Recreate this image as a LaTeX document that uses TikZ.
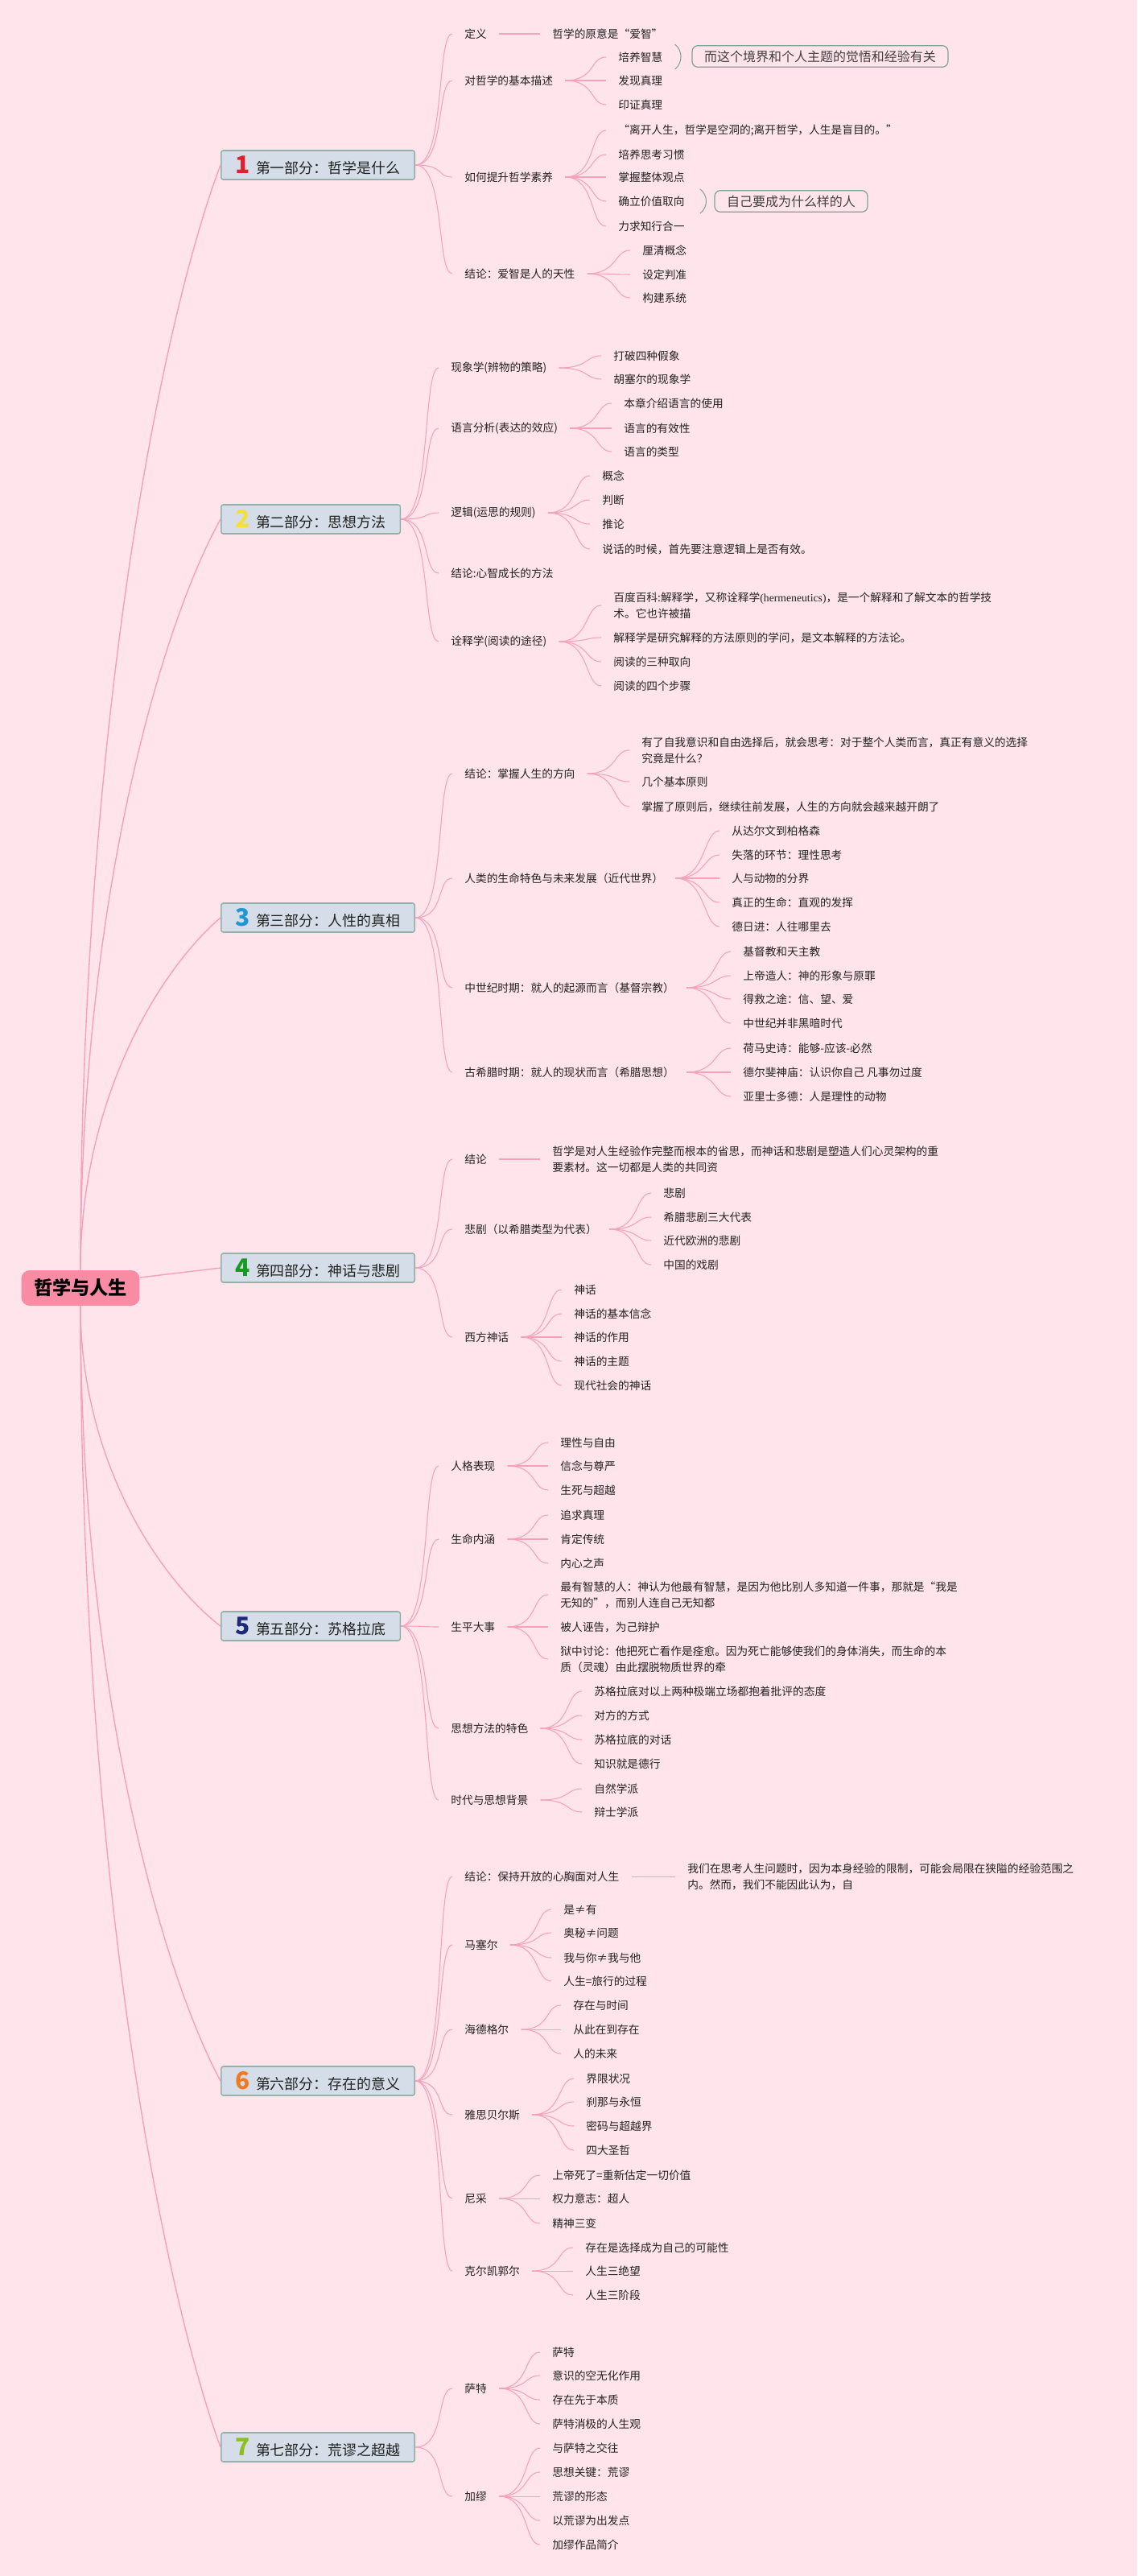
\documentclass[tikz,border=0pt]{standalone}
\usepackage{fontspec}
\setmainfont{Noto Sans CJK SC}
\newfontfamily\latinserif{Liberation Serif}
\usepackage{tikz}
\usetikzlibrary{calc}
\usepackage{xcolor}

\definecolor{bgpink}{HTML}{FFE4EC}
\definecolor{linkpink}{HTML}{F4A2B9}
\definecolor{partfill}{HTML}{D5DEE8}
\definecolor{partedge}{HTML}{94B1A9}
\definecolor{rootpink}{HTML}{F78CA4}
\definecolor{noteedge}{HTML}{7FA39A}
\definecolor{notetext}{HTML}{404040}
\definecolor{itemtext}{HTML}{222222}
\definecolor{no1}{HTML}{E0202E}
\definecolor{no2}{HTML}{F5DF3A}
\definecolor{no3}{HTML}{2196D3}
\definecolor{no4}{HTML}{179A23}
\definecolor{no5}{HTML}{1E2A78}
\definecolor{no6}{HTML}{F27A1E}
\definecolor{no7}{HTML}{8CBF1E}

\newcommand\partno[2]{{\color{#1}\fontsize{17}{17}\selectfont\bfseries #2}\hspace{4pt}}

\begin{document}
\begin{tikzpicture}[
	root/.style={fill=rootpink, rounded corners=6pt, inner xsep=0.31cm, minimum height=0.88cm, font=\fontsize{13.2}{14}\selectfont\bfseries},
	part/.style={anchor=west, draw=partedge, fill=partfill, line width=0.9pt, rounded corners=1.5pt, inner xsep=0.36cm, minimum height=0.72cm, text=itemtext, font=\fontsize{10.2}{12}\selectfont},
	item/.style={anchor=west, inner xsep=0.3cm, inner ysep=1pt, align=left, text=itemtext, font=\fontsize{7.8}{11.3}\selectfont},
	note/.style={draw=noteedge, fill=bgpink, rounded corners=4pt, line width=0.7pt, minimum height=0.52cm, inner xsep=0.3cm, text=notetext, font=\fontsize{9.1}{11}\selectfont},
	link/.style={draw=linkpink, line width=0.6pt},
	branch/.style={link, to path={.. controls +(0.75,0) and +(-0.4,0) .. (\tikztotarget) \tikztonodes}},
	trunk/.style={draw=linkpink, line width=0.8pt},
	brace/.style={draw=noteedge, line width=0.6pt}
]
	\fill[bgpink] (0cm, 0cm) rectangle (28.26cm, -64cm);
	\useasboundingbox (0cm, 0cm) rectangle (28.26cm, -64cm);

	\draw (2cm, -32cm) node[root] (root) {哲学与人生};

	% part 1
	\draw (5.48cm, -4.10cm) node[part] (m1) {\partno{no1}{1}第一部分：哲学是什么}
		(11.24cm, -0.84cm) node[item] (s11) {定义}
		(11.24cm, -2.00cm) node[item] (s12) {对哲学的基本描述}
		(11.24cm, -4.40cm) node[item] (s13) {如何提升哲学素养}
		(11.24cm, -6.80cm) node[item] (s14) {结论：爱智是人的天性}
		(13.42cm, -0.84cm) node[item] (t111) {哲学的原意是“爱智”}
		(15.06cm, -1.42cm) node[item] (t121) {培养智慧}
		(15.06cm, -2.00cm) node[item] (t122) {发现真理}
		(15.06cm, -2.60cm) node[item] (t123) {印证真理}
		(15.06cm, -3.24cm) node[item] (t131) {“离开人生，哲学是空洞的;离开哲学，人生是盲目的。”}
		(15.06cm, -3.84cm) node[item] (t132) {培养思考习惯}
		(15.06cm, -4.40cm) node[item] (t133) {掌握整体观点}
		(15.06cm, -5.00cm) node[item] (t134) {确立价值取向}
		(15.06cm, -5.62cm) node[item] (t135) {力求知行合一}
		(15.66cm, -6.22cm) node[item] (t141) {厘清概念}
		(15.66cm, -6.82cm) node[item] (t142) {设定判准}
		(15.66cm, -7.40cm) node[item] (t143) {构建系统}
		(20.38cm, -1.40cm) node[note] (n1) {而这个境界和个人主题的觉悟和经验有关}
		(19.66cm, -5.00cm) node[note] (n2) {自己要成为什么样的人};

	% part 2
	\draw (5.48cm, -12.90cm) node[part] (m2) {\partno{no2}{2}第二部分：思想方法}
		(10.90cm, -9.14cm) node[item] (s21) {现象学(辨物的策略)}
		(10.90cm, -10.64cm) node[item] (s22) {语言分析(表达的效应)}
		(10.90cm, -12.74cm) node[item] (s23) {逻辑(运思的规则)}
		(10.90cm, -14.24cm) node[item] (s24) {结论:心智成长的方法}
		(10.90cm, -15.94cm) node[item] (s25) {诠释学(阅读的途径)}
		(14.94cm, -8.84cm) node[item] (t211) {打破四种假象}
		(14.94cm, -9.42cm) node[item] (t212) {胡塞尔的现象学}
		(15.20cm, -10.02cm) node[item] (t221) {本章介绍语言的使用}
		(15.20cm, -10.64cm) node[item] (t222) {语言的有效性}
		(15.20cm, -11.22cm) node[item] (t223) {语言的类型}
		(14.66cm, -11.82cm) node[item] (t231) {概念}
		(14.66cm, -12.42cm) node[item] (t232) {判断}
		(14.66cm, -13.02cm) node[item] (t233) {推论}
		(14.66cm, -13.64cm) node[item] (t234) {说话的时候，首先要注意逻辑上是否有效。}
		(14.94cm, -15.04cm) node[item] (t251) {百度百科:解释学，又称诠释学{\latinserif(hermeneutics)}，是一个解释和了解文本的哲学技\\术。它也许被描}
		(14.94cm, -15.84cm) node[item] (t252) {解释学是研究解释的方法原则的学问，是文本解释的方法论。}
		(14.94cm, -16.44cm) node[item] (t253) {阅读的三种取向}
		(14.94cm, -17.04cm) node[item] (t254) {阅读的四个步骤};

	% part 3
	\draw (5.48cm, -22.80cm) node[part] (m3) {\partno{no3}{3}第三部分：人性的真相}
		(11.24cm, -19.22cm) node[item] (s31) {结论：掌握人生的方向}
		(11.24cm, -21.82cm) node[item] (s32) {人类的生命特色与未来发展（近代世界）}
		(11.24cm, -24.54cm) node[item] (s33) {中世纪时期：就人的起源而言（基督宗教）}
		(11.24cm, -26.64cm) node[item] (s34) {古希腊时期：就人的现状而言（希腊思想）}
		(15.64cm, -18.64cm) node[item] (t311) {有了自我意识和自由选择后，就会思考：对于整个人类而言，真正有意义的选择\\究竟是什么？}
		(15.64cm, -19.42cm) node[item] (t312) {几个基本原则}
		(15.64cm, -20.04cm) node[item] (t313) {掌握了原则后，继续往前发展，人生的方向就会越来越开朗了}
		(17.88cm, -20.64cm) node[item] (t321) {从达尔文到柏格森}
		(17.88cm, -21.24cm) node[item] (t322) {失落的环节：理性思考}
		(17.88cm, -21.82cm) node[item] (t323) {人与动物的分界}
		(17.88cm, -22.42cm) node[item] (t324) {真正的生命：直观的发挥}
		(17.88cm, -23.02cm) node[item] (t325) {德日进：人往哪里去}
		(18.16cm, -23.64cm) node[item] (t331) {基督教和天主教}
		(18.16cm, -24.24cm) node[item] (t332) {上帝造人：神的形象与原罪}
		(18.16cm, -24.82cm) node[item] (t333) {得救之途：信、望、爱}
		(18.16cm, -25.42cm) node[item] (t334) {中世纪并非黑暗时代}
		(18.16cm, -26.04cm) node[item] (t341) {荷马史诗：能够-应该-必然}
		(18.16cm, -26.64cm) node[item] (t342) {德尔斐神庙：认识你自己 凡事勿过度}
		(18.16cm, -27.24cm) node[item] (t343) {亚里士多德：人是理性的动物};

	% part 4
	\draw (5.48cm, -31.50cm) node[part] (m4) {\partno{no4}{4}第四部分：神话与悲剧}
		(11.24cm, -28.80cm) node[item] (s41) {结论}
		(11.24cm, -30.54cm) node[item] (s42) {悲剧（以希腊类型为代表）}
		(11.24cm, -33.22cm) node[item] (s43) {西方神话}
		(13.42cm, -28.80cm) node[item] (t411) {哲学是对人生经验作完整而根本的省思，而神话和悲剧是塑造人们心灵架构的重\\要素材。这一切都是人类的共同资}
		(16.18cm, -29.64cm) node[item] (t421) {悲剧}
		(16.18cm, -30.24cm) node[item] (t422) {希腊悲剧三大代表}
		(16.18cm, -30.82cm) node[item] (t423) {近代欧洲的悲剧}
		(16.18cm, -31.42cm) node[item] (t424) {中国的戏剧}
		(13.96cm, -32.04cm) node[item] (t431) {神话}
		(13.96cm, -32.64cm) node[item] (t432) {神话的基本信念}
		(13.96cm, -33.22cm) node[item] (t433) {神话的作用}
		(13.96cm, -33.82cm) node[item] (t434) {神话的主题}
		(13.96cm, -34.42cm) node[item] (t435) {现代社会的神话};

	% part 5
	\draw (5.48cm, -40.40cm) node[part] (m5) {\partno{no5}{5}第五部分：苏格拉底}
		(10.90cm, -36.42cm) node[item] (s51) {人格表现}
		(10.90cm, -38.24cm) node[item] (s52) {生命内涵}
		(10.90cm, -40.42cm) node[item] (s53) {生平大事}
		(10.90cm, -42.94cm) node[item] (s54) {思想方法的特色}
		(10.90cm, -44.72cm) node[item] (s55) {时代与思想背景}
		(13.62cm, -35.84cm) node[item] (t511) {理性与自由}
		(13.62cm, -36.42cm) node[item] (t512) {信念与尊严}
		(13.62cm, -37.02cm) node[item] (t513) {生死与超越}
		(13.62cm, -37.64cm) node[item] (t521) {追求真理}
		(13.62cm, -38.24cm) node[item] (t522) {肯定传统}
		(13.62cm, -38.84cm) node[item] (t523) {内心之声}
		(13.62cm, -39.62cm) node[item] (t531) {最有智慧的人：神认为他最有智慧，是因为他比别人多知道一件事，那就是“我是\\无知的”，而别人连自己无知都}
		(13.62cm, -40.42cm) node[item] (t532) {被人诬告，为己辩护}
		(13.62cm, -41.22cm) node[item] (t533) {狱中讨论：他把死亡看作是痊愈。因为死亡能够使我们的身体消失，而生命的本\\质（灵魂）由此摆脱物质世界的牵}
		(14.46cm, -42.02cm) node[item] (t541) {苏格拉底对以上两种极端立场都抱着批评的态度}
		(14.46cm, -42.62cm) node[item] (t542) {对方的方式}
		(14.46cm, -43.22cm) node[item] (t543) {苏格拉底的对话}
		(14.46cm, -43.82cm) node[item] (t544) {知识就是德行}
		(14.46cm, -44.44cm) node[item] (t551) {自然学派}
		(14.46cm, -45.02cm) node[item] (t552) {辩士学派};

	% part 6
	\draw (5.48cm, -51.70cm) node[part] (m6) {\partno{no6}{6}第六部分：存在的意义}
		(11.24cm, -46.62cm) node[item] (s61) {结论：保持开放的心胸面对人生}
		(11.24cm, -48.32cm) node[item] (s62) {马塞尔}
		(11.24cm, -50.42cm) node[item] (s63) {海德格尔}
		(11.24cm, -52.54cm) node[item] (s64) {雅思贝尔斯}
		(11.24cm, -54.62cm) node[item] (s65) {尼采}
		(11.24cm, -56.42cm) node[item] (s66) {克尔凯郭尔}
		(16.78cm, -46.62cm) node[item] (t611) {我们在思考人生问题时，因为本身经验的限制，可能会局限在狭隘的经验范围之\\内。然而，我们不能因此认为，自}
		(13.70cm, -47.44cm) node[item] (t621) {是≠有}
		(13.70cm, -48.02cm) node[item] (t622) {奥秘≠问题}
		(13.70cm, -48.64cm) node[item] (t623) {我与你≠我与他}
		(13.70cm, -49.22cm) node[item] (t624) {人生=旅行的过程}
		(13.94cm, -49.82cm) node[item] (t631) {存在与时间}
		(13.94cm, -50.42cm) node[item] (t632) {从此在到存在}
		(13.94cm, -51.02cm) node[item] (t633) {人的未来}
		(14.26cm, -51.64cm) node[item] (t641) {界限状况}
		(14.26cm, -52.22cm) node[item] (t642) {刹那与永恒}
		(14.26cm, -52.82cm) node[item] (t643) {密码与超越界}
		(14.26cm, -53.42cm) node[item] (t644) {四大圣哲}
		(13.42cm, -54.04cm) node[item] (t651) {上帝死了=重新估定一切价值}
		(13.42cm, -54.62cm) node[item] (t652) {权力意志：超人}
		(13.42cm, -55.24cm) node[item] (t653) {精神三变}
		(14.24cm, -55.84cm) node[item] (t661) {存在是选择成为自己的可能性}
		(14.24cm, -56.42cm) node[item] (t662) {人生三绝望}
		(14.24cm, -57.02cm) node[item] (t663) {人生三阶段};

	% part 7
	\draw (5.48cm, -60.80cm) node[part] (m7) {\partno{no7}{7}第七部分：荒谬之超越}
		(11.24cm, -59.34cm) node[item] (s71) {萨特}
		(11.24cm, -62.02cm) node[item] (s72) {加缪}
		(13.42cm, -58.44cm) node[item] (t711) {萨特}
		(13.42cm, -59.02cm) node[item] (t712) {意识的空无化作用}
		(13.42cm, -59.62cm) node[item] (t713) {存在先于本质}
		(13.42cm, -60.22cm) node[item] (t714) {萨特消极的人生观}
		(13.42cm, -60.82cm) node[item] (t721) {与萨特之交往}
		(13.42cm, -61.42cm) node[item] (t722) {思想关键：荒谬}
		(13.42cm, -62.02cm) node[item] (t723) {荒谬的形态}
		(13.42cm, -62.62cm) node[item] (t724) {以荒谬为出发点}
		(13.42cm, -63.22cm) node[item] (t725) {加缪作品简介};

	% root to parts
	\draw[trunk] (root.north) .. controls (2cm, -18.10cm) and (4cm, -8.02cm) .. (m1.west);
	\draw[trunk] (root.north) .. controls (2cm, -22.42cm) and (4cm, -15.56cm) .. (m2.west);
	\draw[trunk] (root.north) .. controls (2cm, -27.26cm) and (4cm, -24.06cm) .. (m3.west);
	\draw[trunk] (root.10) -- (m4.west);
	\draw[trunk] (root.south) .. controls (2cm, -36.34cm) and (4cm, -39.26cm) .. (m5.west);
	\draw[trunk] (root.south) .. controls (2cm, -41.88cm) and (4cm, -48.94cm) .. (m6.west);
	\draw[trunk] (root.south) .. controls (2cm, -46.34cm) and (4cm, -56.74cm) .. (m7.west);

	% part 1 links
	\draw[branch] (m1.east) to (s11.west);
	\draw[branch] (m1.east) to (s12.west);
	\draw[branch] (m1.east) to (s13.west);
	\draw[branch] (m1.east) to (s14.west);
	\draw[link] (s11) -- (t111);
	\draw[branch] (s12.east) to (t121.west);
	\draw[branch] (s12.east) to (t122.west);
	\draw[branch] (s12.east) to (t123.west);
	\draw[branch] (s13.east) to (t131.west);
	\draw[branch] (s13.east) to (t132.west);
	\draw[branch] (s13.east) to (t133.west);
	\draw[branch] (s13.east) to (t134.west);
	\draw[branch] (s13.east) to (t135.west);
	\draw[branch] (s14.east) to (t141.west);
	\draw[branch] (s14.east) to (t142.west);
	\draw[branch] (s14.east) to (t143.west);
	\draw[brace] ($(t121.east)+(0, 0.32)$) .. controls +(0.2, -0.15) and +(0.2, 0.15) .. ($(t121.east)+(0, -0.30)$);
	\draw[brace] ($(t134.east)+(0.08, 0.30)$) .. controls +(0.2, -0.15) and +(0.2, 0.15) .. ($(t134.east)+(0.08, -0.30)$);

	% part 2 links
	\draw[branch] (m2.east) to (s21.west);
	\draw[branch] (m2.east) to (s22.west);
	\draw[branch] (m2.east) to (s23.west);
	\draw[branch] (m2.east) to (s24.west);
	\draw[branch] (m2.east) to (s25.west);
	\draw[branch] (s21.east) to (t211.west);
	\draw[branch] (s21.east) to (t212.west);
	\draw[branch] (s22.east) to (t221.west);
	\draw[branch] (s22.east) to (t222.west);
	\draw[branch] (s22.east) to (t223.west);
	\draw[branch] (s23.east) to (t231.west);
	\draw[branch] (s23.east) to (t232.west);
	\draw[branch] (s23.east) to (t233.west);
	\draw[branch] (s23.east) to (t234.west);
	\draw[branch] (s25.east) to (t251.west);
	\draw[branch] (s25.east) to (t252.west);
	\draw[branch] (s25.east) to (t253.west);
	\draw[branch] (s25.east) to (t254.west);

	% part 3 links
	\draw[branch] (m3.east) to (s31.west);
	\draw[branch] (m3.east) to (s32.west);
	\draw[branch] (m3.east) to (s33.west);
	\draw[branch] (m3.east) to (s34.west);
	\draw[branch] (s31.east) to (t311.west);
	\draw[branch] (s31.east) to (t312.west);
	\draw[branch] (s31.east) to (t313.west);
	\draw[branch] (s32.east) to (t321.west);
	\draw[branch] (s32.east) to (t322.west);
	\draw[branch] (s32.east) to (t323.west);
	\draw[branch] (s32.east) to (t324.west);
	\draw[branch] (s32.east) to (t325.west);
	\draw[branch] (s33.east) to (t331.west);
	\draw[branch] (s33.east) to (t332.west);
	\draw[branch] (s33.east) to (t333.west);
	\draw[branch] (s33.east) to (t334.west);
	\draw[branch] (s34.east) to (t341.west);
	\draw[branch] (s34.east) to (t342.west);
	\draw[branch] (s34.east) to (t343.west);

	% part 4 links
	\draw[branch] (m4.east) to (s41.west);
	\draw[branch] (m4.east) to (s42.west);
	\draw[branch] (m4.east) to (s43.west);
	\draw[link] (s41) -- (t411);
	\draw[branch] (s42.east) to (t421.west);
	\draw[branch] (s42.east) to (t422.west);
	\draw[branch] (s42.east) to (t423.west);
	\draw[branch] (s42.east) to (t424.west);
	\draw[branch] (s43.east) to (t431.west);
	\draw[branch] (s43.east) to (t432.west);
	\draw[branch] (s43.east) to (t433.west);
	\draw[branch] (s43.east) to (t434.west);
	\draw[branch] (s43.east) to (t435.west);

	% part 5 links
	\draw[branch] (m5.east) to (s51.west);
	\draw[branch] (m5.east) to (s52.west);
	\draw[branch] (m5.east) to (s53.west);
	\draw[branch] (m5.east) to (s54.west);
	\draw[branch] (m5.east) to (s55.west);
	\draw[branch] (s51.east) to (t511.west);
	\draw[branch] (s51.east) to (t512.west);
	\draw[branch] (s51.east) to (t513.west);
	\draw[branch] (s52.east) to (t521.west);
	\draw[branch] (s52.east) to (t522.west);
	\draw[branch] (s52.east) to (t523.west);
	\draw[branch] (s53.east) to (t531.west);
	\draw[branch] (s53.east) to (t532.west);
	\draw[branch] (s53.east) to (t533.west);
	\draw[branch] (s54.east) to (t541.west);
	\draw[branch] (s54.east) to (t542.west);
	\draw[branch] (s54.east) to (t543.west);
	\draw[branch] (s54.east) to (t544.west);
	\draw[branch] (s55.east) to (t551.west);
	\draw[branch] (s55.east) to (t552.west);

	% part 6 links
	\draw[branch] (m6.east) to (s61.west);
	\draw[branch] (m6.east) to (s62.west);
	\draw[branch] (m6.east) to (s63.west);
	\draw[branch] (m6.east) to (s64.west);
	\draw[branch] (m6.east) to (s65.west);
	\draw[branch] (m6.east) to (s66.west);
	\draw[link] (s61) -- (t611);
	\draw[branch] (s62.east) to (t621.west);
	\draw[branch] (s62.east) to (t622.west);
	\draw[branch] (s62.east) to (t623.west);
	\draw[branch] (s62.east) to (t624.west);
	\draw[branch] (s63.east) to (t631.west);
	\draw[branch] (s63.east) to (t632.west);
	\draw[branch] (s63.east) to (t633.west);
	\draw[branch] (s64.east) to (t641.west);
	\draw[branch] (s64.east) to (t642.west);
	\draw[branch] (s64.east) to (t643.west);
	\draw[branch] (s64.east) to (t644.west);
	\draw[branch] (s65.east) to (t651.west);
	\draw[branch] (s65.east) to (t652.west);
	\draw[branch] (s65.east) to (t653.west);
	\draw[branch] (s66.east) to (t661.west);
	\draw[branch] (s66.east) to (t662.west);
	\draw[branch] (s66.east) to (t663.west);

	% part 7 links
	\draw[branch] (m7.east) to (s71.west);
	\draw[branch] (m7.east) to (s72.west);
	\draw[branch] (s71.east) to (t711.west);
	\draw[branch] (s71.east) to (t712.west);
	\draw[branch] (s71.east) to (t713.west);
	\draw[branch] (s71.east) to (t714.west);
	\draw[branch] (s72.east) to (t721.west);
	\draw[branch] (s72.east) to (t722.west);
	\draw[branch] (s72.east) to (t723.west);
	\draw[branch] (s72.east) to (t724.west);
	\draw[branch] (s72.east) to (t725.west);
\end{tikzpicture}
\end{document}
